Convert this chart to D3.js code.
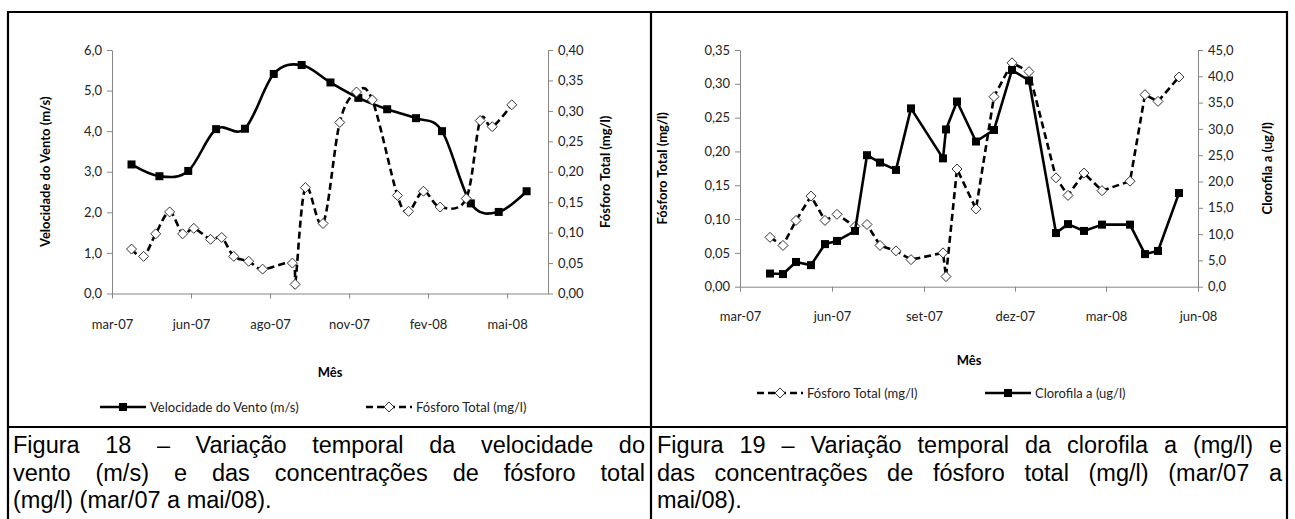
<!DOCTYPE html>
<html>
<head>
<meta charset="utf-8">
<script src="https://cdn.jsdelivr.net/npm/d3@7"></script>
<style>
body { margin: 0; background: #fff; }
#wrap { position: relative; width: 1295px; height: 519px; overflow: hidden; }
svg { position: absolute; left: 0; top: 0; font-family: Lato, "Open Sans", sans-serif; }
.cap { position: absolute; font-family: "Liberation Sans", Arial, sans-serif; font-size: 23.5px; line-height: 27.5px; color: #000; }
.cap div { text-align: justify; text-align-last: justify; }
.cap div.last { text-align-last: left; }
</style>
</head>
<body>
<div id="wrap">
<svg id="chart" width="1295" height="519"></svg>
<div class="cap" id="cap18" style="left:13px; top:432px; width:632px;"></div>
<div class="cap" id="cap19" style="left:657px; top:432px; width:625px;"></div>
</div>
<script>
// ---- data ----
var ventoDatas = ["2007-03-31","2007-04-30","2007-05-31","2007-06-30","2007-07-31","2007-08-31","2007-09-30",
	"2007-10-31","2007-11-30","2007-12-31","2008-01-31","2008-02-28","2008-03-30","2008-04-29","2008-05-29"];
var ventoValores = [3.18, 2.89, 3.02, 4.05, 4.06, 5.41, 5.63, 5.20, 4.82, 4.54, 4.32, 4.00, 2.22, 2.01, 2.52];

var amostraDatas = ["2007-03-31","2007-04-13","2007-04-26","2007-05-11","2007-05-25","2007-06-06","2007-06-24",
	"2007-07-06","2007-07-19","2007-08-04","2007-08-19","2007-09-20","2007-09-23","2007-10-04","2007-10-23",
	"2007-11-10","2007-11-28","2007-12-15","2008-01-11","2008-01-23","2008-02-08","2008-02-26","2008-03-25",
	"2008-04-09","2008-04-22","2008-05-13"];
var fosforoValores = [0.073, 0.061, 0.098, 0.134, 0.098, 0.107, 0.089, 0.092, 0.061, 0.053, 0.040, 0.050, 0.015,
	0.174, 0.115, 0.281, 0.331, 0.318, 0.161, 0.135, 0.168, 0.142, 0.156, 0.284, 0.274, 0.310];
var clorofilaValores = [2.5, 2.4, 4.7, 4.1, 8.1, 8.7, 10.6, 25.0, 23.6, 22.2, 33.9, 24.4, 29.9, 35.2, 27.6, 29.8,
	41.2, 39.2, 10.2, 11.9, 10.6, 11.8, 11.8, 6.2, 6.8, 17.8];

var ticks18 = ["2007-03-10","2007-06-03","2007-08-27","2007-11-20","2008-02-13","2008-05-08"];
var ticks19 = ["2007-03-01","2007-06-01","2007-09-01","2007-12-01","2008-03-01","2008-06-01"];
var ventoTicks = [0, 1, 2, 3, 4, 5, 6];
var fosforoTicks18 = [0, 0.05, 0.10, 0.15, 0.20, 0.25, 0.30, 0.35, 0.40];
var fosforoTicks19 = [0, 0.05, 0.10, 0.15, 0.20, 0.25, 0.30, 0.35];
var clorofilaTicks = [0, 5, 10, 15, 20, 25, 30, 35, 40, 45];

var legenda18 = ["Velocidade do Vento (m/s)", "Fósforo Total (mg/l)"];
var legenda19 = ["Fósforo Total (mg/l)", "Clorofila a (ug/l)"];

var cap18 = ["Figura 18 – Variação temporal da velocidade do",
	"vento (m/s) e das concentrações de fósforo total",
	"(mg/l) (mar/07 a mai/08)."];
var cap19 = ["Figura 19 – Variação temporal da clorofila a (mg/l) e",
	"das concentrações de fósforo total (mg/l) (mar/07 a",
	"mai/08)."];

// ---- helpers ----
var parse = d3.timeParse("%Y-%m-%d");
var meses = ["jan","fev","mar","abr","mai","jun","jul","ago","set","out","nov","dez"];
function fmtMes(d){ return meses[d.getMonth()] + "-" + String(d.getFullYear()).slice(2); }
var pt = d3.formatLocale({decimal: ",", thousands: ".", grouping: [3], currency: ["R$", ""]});
var f1 = pt.format(".1f"), f2 = pt.format(".2f");

function zip(datas, vals){
	return datas.map(function(d, i){ return {date: parse(d), v: vals[i]}; });
}

var svg = d3.select("#chart");

// table borders
var grid = svg.append("g").attr("stroke", "#000").attr("stroke-width", 2.2);
grid.append("line").attr("x1", 8).attr("x2", 1287).attr("y1", 12).attr("y2", 12);
grid.append("line").attr("x1", 8).attr("x2", 1287).attr("y1", 427).attr("y2", 427);
grid.append("line").attr("x1", 8).attr("x2", 8).attr("y1", 11).attr("y2", 519);
grid.append("line").attr("x1", 651).attr("x2", 651).attr("y1", 11).attr("y2", 519);
grid.append("line").attr("x1", 1287).attr("x2", 1287).attr("y1", 11).attr("y2", 519);

function styleAxis(g){
	g.select(".domain").attr("stroke", "#868686");
	g.selectAll(".tick line").attr("stroke", "#868686");
	g.selectAll(".tick text").attr("fill", "#222").style("font-size", "13px").style("font-family", "Lato, sans-serif");
}

function addSquare(g, x, y){
	g.append("rect").attr("x", x - 4).attr("y", y - 4).attr("width", 8).attr("height", 8).attr("fill", "#000");
}
function addDiamond(g, x, y){
	g.append("path").attr("d", "M" + x + "," + (y - 5) + "L" + (x + 5) + "," + y + "L" + x + "," + (y + 5) + "L" + (x - 5) + "," + y + "Z")
		.attr("fill", "#fff").attr("stroke", "#333").attr("stroke-width", 1);
}

function drawSeries(g, data, x, y, kind, smooth){
	var line = d3.line().x(function(d){ return x(d.date); }).y(function(d){ return y(d.v); })
		.curve(smooth ? d3.curveCardinal.tension(0) : d3.curveLinear);
	var p = g.append("path").datum(data).attr("d", line).attr("fill", "none")
		.attr("stroke", "#000").attr("stroke-width", 2.6).attr("stroke-linejoin", "round");
	if (kind === "diamond") p.attr("stroke-dasharray", "7,4");
	data.forEach(function(d){
		if (kind === "diamond") addDiamond(g, x(d.date), y(d.v));
		else addSquare(g, x(d.date), y(d.v));
	});
}

function legendItem(g, x0, y, kind, label){
	var l = g.append("line").attr("x1", x0).attr("x2", x0 + 46).attr("y1", y).attr("y2", y)
		.attr("stroke", "#000").attr("stroke-width", 2.6);
	if (kind === "diamond") { l.attr("stroke-dasharray", "7,4"); addDiamond(g, x0 + 23, y); }
	else addSquare(g, x0 + 23, y);
	g.append("text").attr("x", x0 + 50).attr("y", y).attr("dy", "0.35em")
		.style("font-size", "13px").attr("fill", "#222").text(label);
}

function drawChart(c){
	var g = svg.append("g");
	var x = d3.scaleTime().domain(c.xDomain.map(parse)).range([c.left, c.right]);
	var yL = d3.scaleLinear().domain(c.yLDomain).range([c.bottom, c.top]);
	var yR = d3.scaleLinear().domain(c.yRDomain).range([c.bottom, c.top]);

	g.append("g").attr("transform", "translate(0," + c.bottom + ")")
		.call(d3.axisBottom(x).tickValues(c.xTicks.map(parse)).tickFormat(fmtMes).tickSize(5).tickSizeOuter(0).tickPadding(c.xPad))
		.call(styleAxis);
	g.append("g").attr("transform", "translate(" + c.left + ",0)")
		.call(d3.axisLeft(yL).tickValues(c.yLTicks).tickFormat(c.yLFmt).tickSize(5).tickSizeOuter(0).tickPadding(5))
		.call(styleAxis);
	g.append("g").attr("transform", "translate(" + c.right + ",0)")
		.call(d3.axisRight(yR).tickValues(c.yRTicks).tickFormat(c.yRFmt).tickSize(5).tickSizeOuter(0).tickPadding(5))
		.call(styleAxis);

	var mid = (c.top + c.bottom) / 2;
	g.append("text").attr("transform", "translate(" + c.titleLx + "," + mid + ") rotate(-90)")
		.attr("text-anchor", "middle").style("font-size", "13px").style("font-weight", "bold").text(c.titleL);
	g.append("text").attr("transform", "translate(" + c.titleRx + "," + mid + ") rotate(-90)")
		.attr("text-anchor", "middle").style("font-size", "13px").style("font-weight", "bold").text(c.titleR);
	g.append("text").attr("x", (c.left + c.right) / 2).attr("y", c.mesY).attr("dy", "0.35em")
		.attr("text-anchor", "middle").style("font-size", "13px").style("font-weight", "bold").text("Mês");

	c.series.forEach(function(s){
		drawSeries(g, s.data, x, s.axis === "L" ? yL : yR, s.kind, c.smooth);
	});
	c.series.forEach(function(s, i){
		legendItem(g, c.legendX[i], c.legendY, s.kind, s.label);
	});
}

drawChart({
	left: 112, right: 548, top: 50, bottom: 293.5, xPad: 21,
	xDomain: ["2007-03-10", "2008-06-21"], xTicks: ticks18,
	yLDomain: [0, 6], yLTicks: ventoTicks, yLFmt: f1,
	yRDomain: [0, 0.4], yRTicks: fosforoTicks18, yRFmt: f2,
	titleL: "Velocidade do Vento (m/s)", titleLx: 50,
	titleR: "Fósforo Total (mg/l)", titleRx: 610,
	mesY: 372, legendY: 407, legendX: [100, 366], smooth: true,
	series: [
		{data: zip(ventoDatas, ventoValores), axis: "L", kind: "square", label: legenda18[0]},
		{data: zip(amostraDatas, fosforoValores), axis: "R", kind: "diamond", label: legenda18[1]}
	]
});

drawChart({
	left: 740, right: 1198, top: 50, bottom: 286.7, xPad: 20,
	xDomain: ["2007-03-01", "2008-06-01"], xTicks: ticks19,
	yLDomain: [0, 0.35], yLTicks: fosforoTicks19, yLFmt: f2,
	yRDomain: [0, 45], yRTicks: clorofilaTicks, yRFmt: f1,
	titleL: "Fósforo Total (mg/l)", titleLx: 667,
	titleR: "Clorofila a (ug/l)", titleRx: 1272,
	mesY: 360, legendY: 393, legendX: [757, 985], smooth: false,
	series: [
		{data: zip(amostraDatas, fosforoValores), axis: "L", kind: "diamond", label: legenda19[0]},
		{data: zip(amostraDatas, clorofilaValores), axis: "R", kind: "square", label: legenda19[1]}
	]
});

// captions
function caption(id, lines){
	d3.select(id).selectAll("div").data(lines).enter().append("div")
		.attr("class", function(d, i){ return i === lines.length - 1 ? "last" : null; })
		.text(function(d){ return d; });
}
caption("#cap18", cap18);
caption("#cap19", cap19);
</script>
</body>
</html>
